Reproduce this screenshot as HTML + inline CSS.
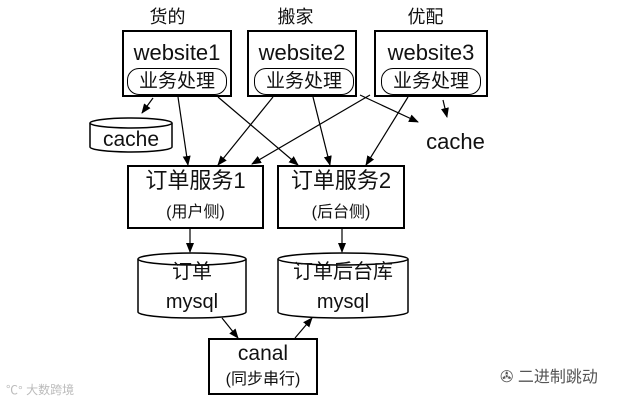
<html><head><style>
body{margin:0;width:619px;height:405px;background:#fff;position:relative;overflow:hidden;font-family:"Liberation Sans","Noto Sans CJK SC",sans-serif;color:#111}
.a{position:absolute;text-align:center;line-height:1}
.b{position:absolute;border:2px solid #000;box-sizing:border-box}
</style></head><body>
<svg width="619" height="405" style="position:absolute;left:0;top:0">
<defs><marker id="m" markerWidth="10" markerHeight="8" refX="9" refY="4" orient="auto" markerUnits="userSpaceOnUse"><path d="M0,0L10,4L0,8z" fill="#000"/></marker></defs>
<g stroke="#000" stroke-width="1.2" marker-end="url(#m)">
<line x1="178" y1="97" x2="188" y2="165"/>
<line x1="218" y1="97" x2="298" y2="165"/>
<line x1="153" y1="98" x2="142" y2="113"/>
<line x1="273" y1="97" x2="218" y2="165"/>
<line x1="313" y1="97" x2="330" y2="165"/>
<line x1="370" y1="95" x2="252" y2="164"/>
<line x1="408" y1="97" x2="366" y2="165"/>
<line x1="360" y1="95" x2="418" y2="122"/>
<line x1="443" y1="100" x2="447" y2="117"/>
<line x1="190" y1="229" x2="190" y2="252"/>
<line x1="342" y1="229" x2="342" y2="252"/>
<line x1="222" y1="318" x2="238" y2="338"/>
<line x1="295" y1="338" x2="312" y2="318"/>
</g>
<g fill="#fff" stroke="#000" stroke-width="1.5">
<path d="M90,123 V147 A41,5 0 0 0 172,147 V123"/><ellipse cx="131" cy="123" rx="41" ry="5"/>
<path d="M138,259 V312 A54,6 0 0 0 246,312 V259"/><ellipse cx="192" cy="259" rx="54" ry="6"/>
<path d="M278,259 V312 A65,6 0 0 0 408,312 V259"/><ellipse cx="343" cy="259" rx="65" ry="6"/>
</g>
</svg>
<div class="a" style="left:140px;top:8px;width:55px;font-size:18px">货的</div>
<div class="a" style="left:268px;top:8px;width:55px;font-size:18px">搬家</div>
<div class="a" style="left:398px;top:8px;width:55px;font-size:18px">优配</div>
<div class="b" style="left:122px;top:30px;width:110px;height:67px"></div>
<div class="b" style="left:247px;top:30px;width:110px;height:67px"></div>
<div class="b" style="left:374px;top:30px;width:114px;height:67px"></div>
<div class="a" style="left:122px;top:42px;width:110px;font-size:22px">website1</div>
<div class="a" style="left:247px;top:42px;width:110px;font-size:22px">website2</div>
<div class="a" style="left:374px;top:42px;width:114px;font-size:22px">website3</div>
<div class="b" style="left:127px;top:68px;width:100px;height:27px;border-radius:12px;border-width:1.5px"></div>
<div class="b" style="left:254px;top:68px;width:100px;height:27px;border-radius:12px;border-width:1.5px"></div>
<div class="b" style="left:381px;top:68px;width:100px;height:27px;border-radius:12px;border-width:1.5px"></div>
<div class="a" style="left:127px;top:72px;width:100px;font-size:19px">业务处理</div>
<div class="a" style="left:254px;top:72px;width:100px;font-size:19px">业务处理</div>
<div class="a" style="left:381px;top:72px;width:100px;font-size:19px">业务处理</div>
<div class="a" style="left:90px;top:129px;width:82px;font-size:21px">cache</div>
<div class="a" style="left:418px;top:131px;width:75px;font-size:22px">cache</div>
<div class="b" style="left:127px;top:165px;width:137px;height:64px"></div>
<div class="b" style="left:277px;top:165px;width:128px;height:64px"></div>
<div class="a" style="left:127px;top:170px;width:137px;font-size:22px">订单服务1</div>
<div class="a" style="left:277px;top:170px;width:128px;font-size:22px">订单服务2</div>
<div class="a" style="left:127px;top:205px;width:137px;font-size:16px">(用户侧)</div>
<div class="a" style="left:277px;top:205px;width:128px;font-size:16px">(后台侧)</div>
<div class="a" style="left:138px;top:262px;width:108px;font-size:20px">订单</div>
<div class="a" style="left:138px;top:292px;width:108px;font-size:20px">mysql</div>
<div class="a" style="left:278px;top:262px;width:130px;font-size:20px">订单后台库</div>
<div class="a" style="left:278px;top:292px;width:130px;font-size:20px">mysql</div>
<div class="b" style="left:208px;top:338px;width:110px;height:57px"></div>
<div class="a" style="left:208px;top:343px;width:110px;font-size:21px">canal</div>
<div class="a" style="left:208px;top:372px;width:110px;font-size:16px">(同步串行)</div>
<div class="a" style="left:6px;top:384px;width:80px;font-size:12px;color:#bbb;text-align:left">℃° 大数跨境</div>
<div class="a" style="left:500px;top:370px;width:115px;font-size:16px;color:#555;text-align:left">✇ 二进制跳动</div>
</body></html>
